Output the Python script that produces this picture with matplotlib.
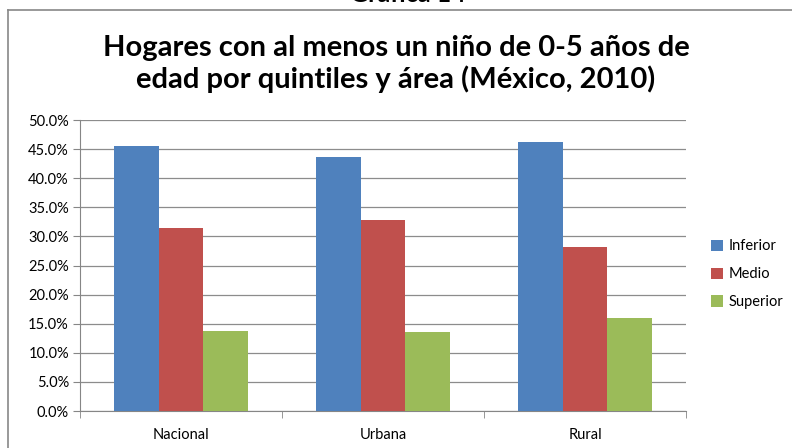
import matplotlib.pyplot as plt
import numpy as np
from matplotlib.lines import Line2D
from matplotlib.ticker import PercentFormatter

# Datos
areas = ['Nacional', 'Urbana', 'Rural']
quintiles = ['Inferior', 'Medio', 'Superior']
inferior = [45.5, 43.6, 46.3]
medio = [31.4, 32.8, 28.2]
superior = [13.7, 13.5, 16.0]
colores = ['#4F81BD', '#C0504D', '#9BBB59']

plt.rcParams['font.family'] = ['Lato', 'DejaVu Sans']

fig = plt.figure(figsize=(7.92, 4.48), dpi=100)
ax = fig.add_axes([80 / 792, 1 - 411 / 448, 606 / 792, 291 / 448])

x = np.arange(len(areas))
ancho = 1 / 4.5
for i, (serie, nombre) in enumerate(zip([inferior, medio, superior], quintiles)):
    ax.bar(x + (i - 1) * ancho, serie, ancho, color=colores[i], label=nombre, zorder=3)

ax.set_xlim(-0.5, 2.5)
ax.set_ylim(0, 50)
ax.set_yticks(np.arange(0, 50.1, 5))
ax.yaxis.set_major_formatter(PercentFormatter(decimals=1))
ax.set_xticks(x)
ax.set_xticklabels(areas)
ax.set_xticks(np.arange(-0.5, 2.6, 1), minor=True)
ax.tick_params(axis='x', which='major', length=0, pad=12, labelsize=10.5)
ax.tick_params(axis='x', which='minor', length=5, color='#868686', direction='out')
ax.tick_params(axis='y', length=5, color='#868686', labelsize=10.5, pad=3)

ax.grid(axis='y', color='#8c8c8c', linewidth=0.9, zorder=0)
for lado in ['top', 'right']:
    ax.spines[lado].set_visible(False)
for lado in ['left', 'bottom']:
    ax.spines[lado].set_color('#868686')

ax.legend(loc='center left', bbox_to_anchor=(1.02, 0.47), frameon=False,
          fontsize=10.5, handlelength=0.8, handleheight=0.8, handletextpad=0.4,
          labelspacing=0.95)

# Titulo
fig.text(0.5, 1 - 64 / 448, 'Hogares con al menos un niño de 0-5 años de\nedad por quintiles y área (México, 2010)',
         ha='center', va='center', fontsize=21, fontweight='bold', linespacing=1.2)
fig.text(408 / 792, 1 - 6 / 448, 'Gráfica 14', ha='center', va='bottom',
         fontsize=18, fontweight='bold')

# Marco del gráfico
fig.add_artist(Line2D([8 / 792, 8 / 792], [0, 1 - 10 / 448], color='#888888', lw=1.2))
fig.add_artist(Line2D([8 / 792, 1], [1 - 10 / 448, 1 - 10 / 448], color='#888888', lw=1.2))

fig.savefig('out.png', dpi=100)
